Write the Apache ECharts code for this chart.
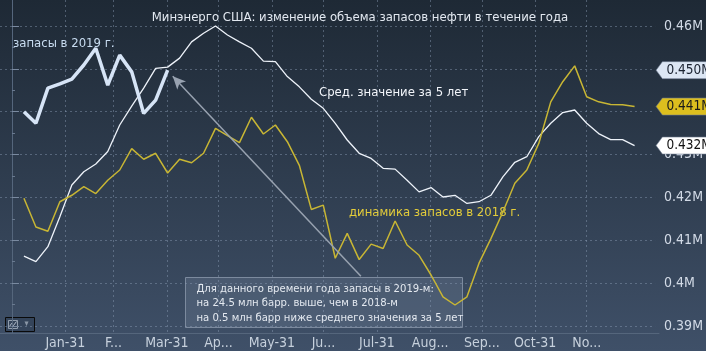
<!DOCTYPE html>
<html>
<head>
<meta charset="utf-8">
<script src="https://cdn.jsdelivr.net/npm/echarts@6/dist/echarts.min.js"></script>
<style>
html,body{margin:0;padding:0;background:#2a3648;}
#main{width:706px;height:351px;}
</style>
</head>
<body>
<div id="main"></div>
<script>
// недели (день года, конец недели)
var days = [7,14,21,28,35,42,49,56,63,70,77,84,91,98,105,112,119,126,133,140,147,154,161,168,175,182,189,196,203,210,217,224,231,238,245,252,259,266,273,280,287,294,301,308,315,322,329,336,343,350,357,364];

// запасы в 2019 г., млн барр.
var stocks2019 = [0.4400,0.4373,0.4455,0.4465,0.4476,0.4509,0.4548,0.4462,0.4532,0.4493,0.4396,0.4427,0.4497];

// среднее за 5 лет
var avg5y = [0.4063,0.4050,0.4085,0.4155,0.4229,0.4260,0.4278,0.4307,0.4369,0.4413,0.4455,0.4501,0.4504,
  0.4525,0.4563,0.4583,0.4600,0.4579,0.4563,0.4548,0.4518,0.4517,0.4482,0.4458,0.4429,0.4408,
  0.4373,0.4334,0.4303,0.4291,0.4268,0.4266,0.4240,0.4213,0.4223,0.4201,0.4205,0.4186,0.4190,
  0.4205,0.4248,0.4282,0.4295,0.4342,0.4373,0.4398,0.4404,0.4373,0.4349,0.4335,0.4335,0.4321];

// динамика запасов в 2018 г.
var stocks2018 = [0.4198,0.4131,0.4121,0.4190,0.4205,0.4225,0.4209,0.4240,0.4264,0.4314,0.4289,0.4303,0.4257,
  0.4289,0.4281,0.4303,0.4361,0.4344,0.4328,0.4387,0.4348,0.4369,0.4330,0.4275,0.4172,0.4182,
  0.4058,0.4116,0.4055,0.4091,0.4081,0.4145,0.4089,0.4065,0.4019,0.3968,0.3949,0.3968,0.4046,
  0.4104,0.4166,0.4233,0.4264,0.4326,0.4423,0.4470,0.4507,0.4435,0.4423,0.4417,0.4416,0.4412];

var monthEnds = [31,59,90,120,151,181,212,243,273,304,334];
var monthLabels = ['Jan-31','F...','Mar-31','Ap...','May-31','Ju...','Jul-31','Aug...','Sep...','Oct-31','No...'];

var FONT = '"DejaVu Sans Condensed", "DejaVu Sans", sans-serif';
var X_MIN = -7, X_MAX = 376;

function pairs(vals) {
  return vals.map(function (v, i) { return [days[i], v]; });
}

function tag(val, bg, fg) {
  return {
    silent: true,
    symbol: 'path://M0,8 L7,0 L60,0 L60,16 L7,16 Z',
    symbolSize: [54, 17],
    symbolKeepAspect: false,
    symbolOffset: [28, 0],
    itemStyle: { color: bg, borderColor: '#6e7c90', borderWidth: 0.5 },
    label: {
      show: true, position: 'inside', offset: [6, 0],
      color: fg, fontFamily: FONT, fontSize: 13.5,
      formatter: function () { return val.toFixed(3) + 'M'; }
    },
    data: [{ coord: [X_MAX, val] }]
  };
}

var chart = echarts.init(document.getElementById('main'));

var option = {
  animation: false,
  backgroundColor: {
    type: 'linear', x: 0, y: 0, x2: 0, y2: 1,
    colorStops: [{ offset: 0, color: '#1e2935' }, { offset: 1, color: '#3f5068' }]
  },
  title: {
    text: 'Минэнерго США: изменение объема запасов нефти в течение года',
    left: 355, top: 6, textAlign: 'center',
    textStyle: { color: '#e2e8f0', fontFamily: FONT, fontSize: 13, fontWeight: 'normal' }
  },
  grid: [
    { left: 0, right: 47, top: 0, bottom: 18 },
    { left: 0, right: 47, top: 26, bottom: 25 }
  ],
  xAxis: [
    {
      gridIndex: 0, type: 'value', min: X_MIN, max: X_MAX,
      axisLine: { show: true, lineStyle: { color: '#55667c' } },
      axisTick: { show: false, customValues: monthEnds },
      axisLabel: {
        customValues: monthEnds, color: '#c6d0dc', fontFamily: FONT, fontSize: 14, margin: 3,
        formatter: function (v) { return monthLabels[monthEnds.indexOf(v)]; }
      },
      splitLine: { show: true, lineStyle: { color: 'rgba(140,158,182,0.45)', type: [2, 3] } }
    },
    {
      gridIndex: 1, type: 'value', min: X_MIN, max: X_MAX, show: false,
      splitLine: { show: false }
    }
  ],
  yAxis: [
    {
      gridIndex: 0, type: 'value', min: 0, max: 1, position: 'right',
      axisLine: { show: true, lineStyle: { color: '#55667c' } },
      axisTick: { show: false }, axisLabel: { show: false }, splitLine: { show: false }
    },
    {
      gridIndex: 1, type: 'value', position: 'right', min: 0.39, max: 0.46, interval: 0.01,
      axisLine: { show: false },
      axisTick: { show: true, length: 7, lineStyle: { color: '#7a8aa0' } },
      minorTick: { show: true, splitNumber: 2, length: 3, lineStyle: { color: '#6a7a90' } },
      axisLabel: {
        color: '#d2dae6', fontFamily: FONT, fontSize: 14, margin: 9,
        formatter: function (v) { return (Math.round(v * 100) / 100) + 'M'; }
      },
      splitLine: { show: true, lineStyle: { color: 'rgba(140,158,182,0.45)', type: [2, 3] } }
    }
  ],
  series: [
    {
      name: 'Сред. значение за 5 лет', type: 'line', xAxisIndex: 1, yAxisIndex: 1,
      data: pairs(avg5y), showSymbol: false, clip: false,
      lineStyle: { color: '#eef3fa', width: 1.3 },
      markPoint: tag(avg5y[avg5y.length - 1], '#ffffff', '#111111')
    },
    {
      name: 'динамика запасов в 2018 г.', type: 'line', xAxisIndex: 1, yAxisIndex: 1,
      data: pairs(stocks2018), showSymbol: false, clip: false,
      lineStyle: { color: '#c8b634', width: 1.5 },
      markPoint: tag(stocks2018[stocks2018.length - 1], '#dcbe1e', '#1a1a1a')
    },
    {
      name: 'запасы в 2019 г.', type: 'line', xAxisIndex: 1, yAxisIndex: 1,
      data: pairs(stocks2019), showSymbol: false, clip: false,
      lineStyle: { color: '#d6e4f6', width: 3.5 },
      markPoint: tag(stocks2019[stocks2019.length - 1], '#dce6f4', '#1a2230'),
      markLine: {
        silent: true, symbol: ['none', 'none'],
        label: { show: false },
        data: [
          [
            { coord: [days[stocks2019.length - 1], stocks2019[stocks2019.length - 1]], lineStyle: { color: '#ffffff', width: 2, type: [2, 2] } },
            { coord: [days[stocks2019.length - 1], 0.3885] }
          ],
          [
            { coord: [204, 0.4016], symbol: 'none', lineStyle: { color: '#98a2b0', width: 1.5, type: 'solid' } },
            { coord: [94, 0.4483], symbol: 'arrow', symbolSize: [9, 13] }
          ]
        ]
      }
    }
  ],
  graphic: [
    { type: 'text', left: 13, top: 37, style: { text: 'запасы в 2019 г.', fill: '#c8dcf0', font: '13px ' + FONT } },
    { type: 'text', left: 319, top: 86, style: { text: 'Сред. значение за 5 лет', fill: '#f2f5fa', font: '13px ' + FONT } },
    { type: 'text', left: 349, top: 206, style: { text: 'динамика запасов в 2018 г.', fill: '#e3cc3a', font: '13px ' + FONT } },
    {
      type: 'group', left: 185, top: 277,
      children: [
        { type: 'rect', shape: { x: 0, y: 0, width: 277, height: 50 },
          style: { fill: 'rgba(110,126,150,0.35)', stroke: '#7c8a9e', lineWidth: 1 } },
        { type: 'text', x: 11, y: 4,
          style: { text: 'Для данного времени года запасы в 2019-м:\nна 24.5 млн барр. выше, чем в 2018-м\nна 0.5 млн барр ниже среднего значения за 5 лет',
            fill: '#e4e9f0', font: '11.2px ' + FONT, lineHeight: 14.5 } }
      ]
    },
    {
      type: 'group', left: 5, top: 317,
      children: [
        { type: 'rect', shape: { x: 0, y: 0, width: 29, height: 14 }, style: { fill: '#34445a', stroke: '#0a0a0a', lineWidth: 1 } },
        { type: 'rect', shape: { x: 3, y: 3, width: 9, height: 8 }, style: { fill: 'none', stroke: '#aab4c2', lineWidth: 0.8 } },
        { type: 'polyline', shape: { points: [[4, 9], [6, 6], [8, 8], [11, 4]] }, style: { fill: 'none', stroke: '#d0d8e4', lineWidth: 0.8 } },
        { type: 'text', x: 19, y: 2, style: { text: '▾', fill: '#8a96a6', font: '9px ' + FONT } }
      ]
    }
  ]
};

chart.setOption(option);
</script>
</body>
</html>
